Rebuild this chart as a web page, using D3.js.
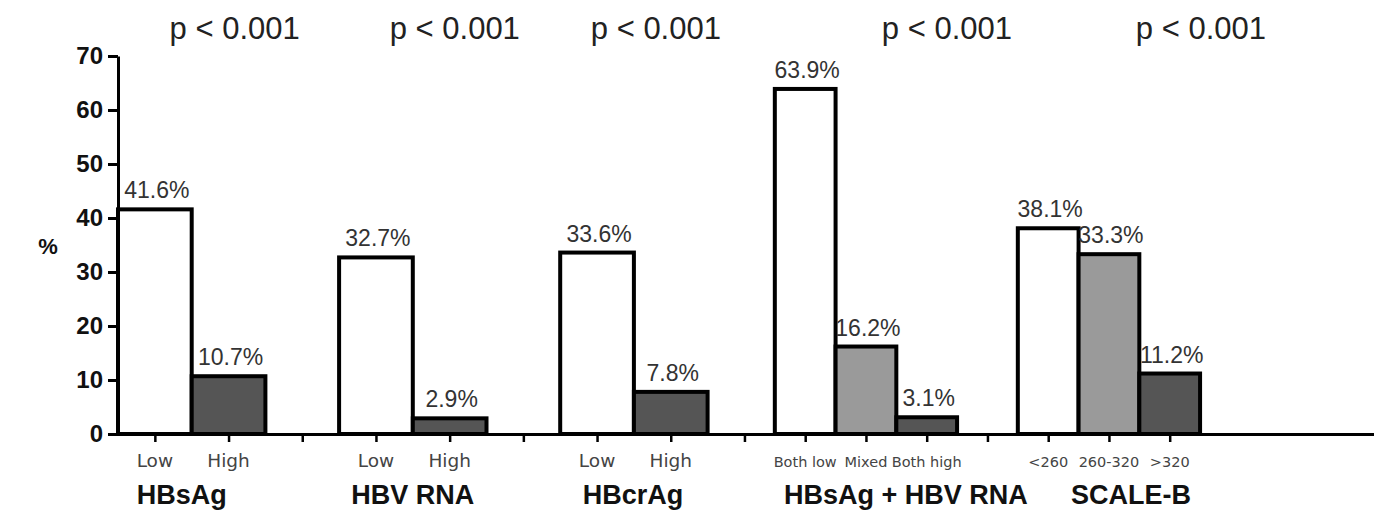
<!DOCTYPE html>
<html>
<head>
<meta charset="utf-8">
<script src="https://cdn.jsdelivr.net/npm/d3@7"></script>
<style>
  body { margin: 0; background: #fff; }
  svg { display: block; }
</style>
</head>
<body>
<svg></svg>
<script>
// data
const groups = ["HBsAg", "HBV RNA", "HBcrAg", "HBsAg + HBV RNA", "SCALE-B"];
const categories = [
  ["Low", "High"],
  ["Low", "High"],
  ["Low", "High"],
  ["Both low", "Mixed", "Both high"],
  ["<260", "260-320", ">320"]
];
const values = [
  [41.6, 10.7],
  [32.7, 2.9],
  [33.6, 7.8],
  [63.9, 16.2, 3.1],
  [38.1, 33.3, 11.2]
];
const pLabels = ["p < 0.001", "p < 0.001", "p < 0.001", "p < 0.001", "p < 0.001"];
const yTicks = [0, 10, 20, 30, 40, 50, 60, 70];

// layout
const width = 1374, height = 520;
const axisX = 118;
const y0 = 434, yTop = 56;
// horizontal nudges of the header / group labels away from the group centre
const pShift = [43, 42, 22, 81, 92];
const nameShift = [-10, 0, -1, 40, 22];

const svg = d3.select("svg")
  .attr("width", width)
  .attr("height", height);

const y = d3.scaleLinear()
  .domain([0, 70])
  .range([y0, yTop]);

// one band scale per group, each group has one empty half slot at both ends
const stepOf = n => n === 2 ? 73.7 : 60.75;
let start = axisX - stepOf(categories[0].length) / 2;
const groupScales = categories.map(cats => {
  const w = (cats.length + 1) * stepOf(cats.length);
  const sc = d3.scaleBand()
    .domain(cats)
    .range([start, start + w])
    .paddingInner(0)
    .paddingOuter(0.5);
  start += w;
  return sc;
});

const shadeOf = (i, n) => i === 0 ? "#ffffff" : (i === n - 1 ? "#555555" : "#9a9a9a");

// x axis: ticks under each bar plus separators between groups
const tickPos = [];
groupScales.forEach((sc, gi) => {
  sc.domain().forEach(c => tickPos.push(sc(c) + sc.bandwidth() / 2));
  if (gi < groupScales.length - 1) tickPos.push(sc.range()[1]);
});

const xAxisScale = d3.scaleLinear().domain([axisX, width]).range([axisX, width]);
const xAxis = svg.append("g")
  .attr("transform", `translate(0, ${y0})`)
  .call(d3.axisBottom(xAxisScale).tickValues(tickPos).tickFormat("").tickSize(8).tickSizeOuter(0));
xAxis.select(".domain").attr("stroke-width", 3);
xAxis.selectAll(".tick line").attr("stroke-width", 2.5);

// bars
groups.forEach((g, gi) => {
  const sc = groupScales[gi];
  const cats = categories[gi];
  const rows = cats.map((c, i) => ({ c, v: values[gi][i], i, n: cats.length }));
  const grp = svg.append("g");

  grp.selectAll("rect")
    .data(rows).enter().append("rect")
    .attr("x", d => sc(d.c))
    .attr("y", d => y(d.v))
    .attr("width", sc.bandwidth())
    .attr("height", d => y0 - y(d.v))
    .attr("fill", d => shadeOf(d.i, d.n))
    .attr("stroke", "#000")
    .attr("stroke-width", 4);

  // value labels
  grp.selectAll(".val")
    .data(rows).enter().append("text")
    .attr("class", "val")
    .attr("x", d => sc(d.c) + sc.bandwidth() / 2 + 2)
    .attr("y", d => y(d.v) - 11)
    .attr("text-anchor", "middle")
    .attr("font-family", "Liberation Sans, Arial, sans-serif")
    .attr("font-size", "23px")
    .attr("fill", "#333")
    .text(d => d.v.toFixed(1) + "%");

  // category labels, smaller where the slots are narrower
  grp.selectAll(".cat")
    .data(rows).enter().append("text")
    .attr("class", "cat")
    .attr("x", d => sc(d.c) + sc.bandwidth() / 2)
    .attr("y", 467)
    .attr("text-anchor", "middle")
    .attr("font-family", "DejaVu Sans, sans-serif")
    .attr("font-size", cats.length === 2 ? "18.5px" : "14.5px")
    .attr("fill", "#444")
    .text(d => d.c);

  const mid = (sc.range()[0] + sc.range()[1]) / 2;

  // group name
  grp.append("text")
    .attr("x", mid + nameShift[gi])
    .attr("y", 504)
    .attr("text-anchor", "middle")
    .attr("font-family", "Liberation Sans, Arial, sans-serif")
    .attr("font-size", "27px")
    .attr("font-weight", "bold")
    .attr("fill", "#111")
    .text(g);

  // p value header
  grp.append("text")
    .attr("x", mid + pShift[gi])
    .attr("y", 39)
    .attr("text-anchor", "middle")
    .attr("font-family", "Liberation Sans, Arial, sans-serif")
    .attr("font-size", "31px")
    .attr("fill", "#222")
    .text(pLabels[gi]);
});

// y axis
const yAxis = svg.append("g")
  .attr("transform", `translate(${axisX}, 0)`)
  .call(d3.axisLeft(y).tickValues(yTicks).tickSize(10).tickSizeOuter(0).tickPadding(5));
yAxis.select(".domain").attr("stroke-width", 3);
yAxis.selectAll(".tick line").attr("stroke-width", 3);
yAxis.selectAll(".tick text")
  .attr("font-family", "Liberation Sans, Arial, sans-serif")
  .attr("font-size", "24px")
  .attr("font-weight", "bold")
  .attr("fill", "#111");

// y axis title
svg.append("text")
  .attr("x", 48)
  .attr("y", 254)
  .attr("text-anchor", "middle")
  .attr("font-family", "Liberation Sans, Arial, sans-serif")
  .attr("font-size", "22px")
  .attr("font-weight", "bold")
  .attr("fill", "#111")
  .text("%");
</script>
</body>
</html>
